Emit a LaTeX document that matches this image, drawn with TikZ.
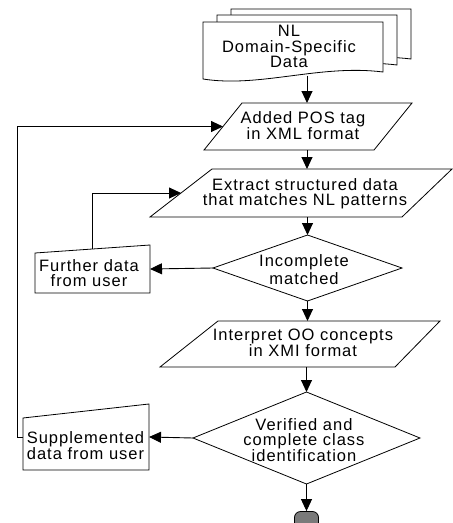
\documentclass[tikz,border=0pt]{standalone}
\usepackage{fontspec}
\setmainfont{Liberation Sans}[LetterSpace=6]
\usetikzlibrary{arrows.meta,shapes.geometric,calc}
\newcommand\fl{\rule{0pt}{12.5pt}}
\begin{document}
\begin{tikzpicture}[x=1pt,y=-1pt,
  outline/.style={draw=black,line width=0.8pt,fill=white},
  area/.style 2 args={inner sep=0pt,outer sep=0pt,minimum width=#1,minimum height=#2},
  dia/.style 2 args={diamond,draw=black,line width=0.8pt,inner sep=0pt,outer sep=0pt,minimum width=#1,minimum height=#2},
  conn/.style={draw=black,line width=0.9pt,-{Triangle[length=12pt,width=11pt]}},
  txt/.style={inner sep=0pt,anchor=north,align=center,font=\fontsize{16.5}{15}\selectfont}]
\useasboundingbox (0,0) rectangle (453,523);
% document stack
\node[area={180}{58}] (doc) at (293,51) {};
\foreach \dx/\dy in {28/-13,14/-7,0/0}
  \draw[outline,shift={(\dx,\dy)}] (203,22) -- (383,22) -- (383,72)
     .. controls (320,64) and (260,88) .. (203,79) -- cycle;
\coordinate (docout) at (307,75.5);
\coordinate (axis) at (307,0);
% Added POS tag
\node[area={208}{47}] (pos) at (308,126.5) {};
\draw[outline] ([xshift=38pt]pos.north west) -- (pos.north east) -- ([xshift=-38pt]pos.south east) -- (pos.south west) -- cycle;
% Extract
\node[area={302}{48}] (ext) at (301,193) {};
\draw[outline] ([xshift=62pt]ext.north west) -- (ext.north east) -- ([xshift=-50pt]ext.south east) -- (ext.south west) -- cycle;
% Incomplete
\node[dia={189}{66}] (inc) at (307.5,268) {};
% Interpret
\node[area={280}{46}] (int) at (300,344) {};
\draw[outline] ([xshift=58pt]int.north west) -- (int.north east) -- ([xshift=-45pt]int.south east) -- (int.south west) -- cycle;
% Verified
\node[dia={227}{92}] (ver) at (306.5,438) {};
% Further data
\node[area={115}{48}] (fur) at (92.5,269) {};
\draw[outline] (fur.south west) -- ([yshift=-8pt]fur.north west) -- (fur.north east) -- (fur.south east) -- cycle;
% Supplemented
\node[area={126}{66}] (sup) at (86,437) {};
\draw[outline] (sup.south west) -- ([yshift=-14pt]sup.north west) -- (sup.north east) -- (sup.south east) -- cycle;
% End
\node[draw=black,line width=0.8pt,fill=black!52,rounded corners=6pt,minimum width=24pt,minimum height=20pt,inner sep=0pt] (end) at (306.5,521.5) {};
% texts
\node[txt] (doc-t) at (289,23.5) {\fl NL\\[1.3pt]Domain-Specific\\[0.3pt]Data};
\node[txt] (pos-t) at (303,110.8) {\fl Added POS tag\\in XML format};
\node[txt] (ext-t) at (305,177.8) {\fl Extract structured data\\that matches NL patterns};
\node[txt] (inc-t) at (304,254.2) {\fl Incomplete\\[1.6pt]matched};
\node[txt] (int-t) at (303,327.5) {\fl Interpret OO concepts\\in XMI format};
\node[txt] (ver-t) at (304,417.5) {\fl Verified and\\complete class\\identification};
\node[txt] (fur-t) at (89,259.2) {\fl Further data\\from user};
\node[txt] (sup-t) at (85.5,430.5) {\fl Supplemented\\data from user};
% connectors
\draw[conn] (docout) -- (pos.north -| axis);
\draw[conn] (pos.south -| axis) -- (ext.north -| axis);
\draw[conn] (ext.south -| inc.north) -- (inc.north);
\draw[conn] (inc.south) -- (int.north -| inc.south);
\draw[conn] (int.south -| ver.north) -- (ver.north);
\draw[conn] (ver.south) -- (end.north);
\draw[conn] (inc.west) -- (fur.east);
\draw[conn] (ver.west) -- (sup.east);
\draw[conn] ([yshift=-4pt]fur.north) |- ($(ext.west)+(31,0)$);
\draw[conn] (sup.west) -- ++(-6,0) |- ($(pos.west)+(19,0)$);
\end{tikzpicture}
\end{document}
